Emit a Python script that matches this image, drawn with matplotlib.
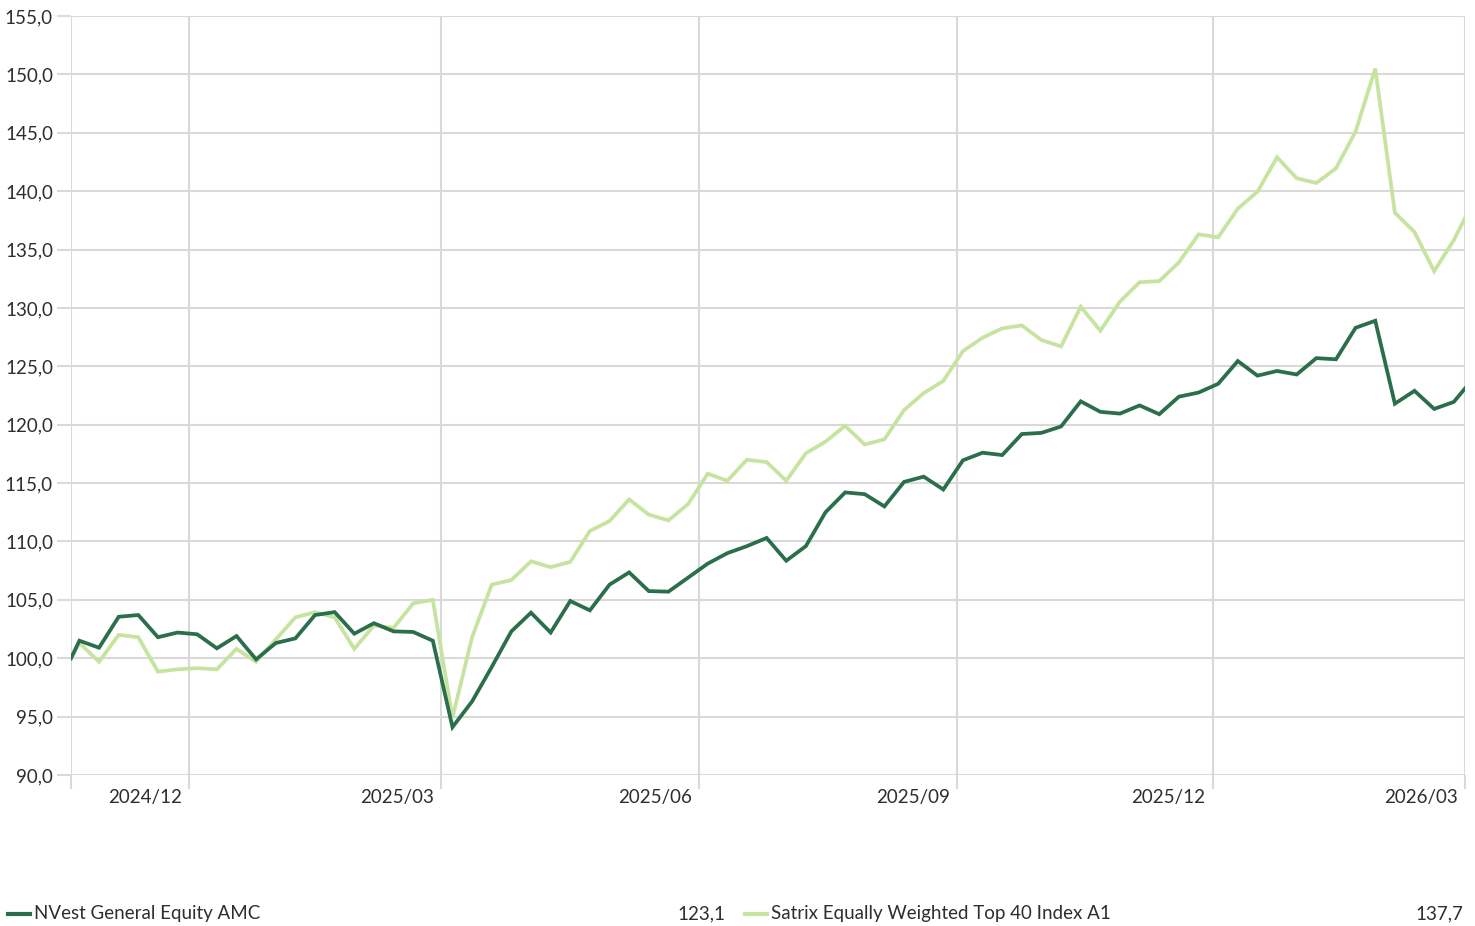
import matplotlib
matplotlib.use("Agg")
import matplotlib.pyplot as plt
from matplotlib.lines import Line2D
from matplotlib.transforms import ScaledTranslation
import pandas as pd

plt.rcParams["font.family"] = ["Lato", "DejaVu Sans"]

# weekly observations, plus the partial-week start and end points
dates = ([pd.Timestamp("2024-10-20")]
         + list(pd.date_range("2024-10-23", periods=71, freq="7D"))
         + [pd.Timestamp("2026-03-01")])

nvest = [100.0, 101.5, 100.9, 103.55, 103.7, 101.8, 102.2, 102.05, 100.85, 101.9,
         99.9, 101.3, 101.7, 103.7, 103.95, 102.1, 103.0, 102.3, 102.25, 101.5,
         94.1, 96.3, 99.25, 102.3, 103.9, 102.2, 104.9, 104.1, 106.3, 107.35,
         105.75, 105.7, 106.9, 108.1, 109.0, 109.6, 110.3, 108.35, 109.6, 112.5,
         114.2, 114.05, 113.0, 115.1, 115.55, 114.45, 116.95, 117.6, 117.4, 119.2,
         119.3, 119.85, 122.0, 121.1, 120.95, 121.65, 120.9, 122.4, 122.75, 123.5,
         125.45, 124.2, 124.6, 124.3, 125.7, 125.6, 128.3, 128.9, 121.8, 122.9,
         121.35, 121.95, 123.1]

satrix = [100.0, 101.3, 99.7, 102.0, 101.8, 98.85, 99.05, 99.15, 99.05, 100.8,
          99.7, 101.6, 103.5, 103.95, 103.5, 100.8, 102.8, 102.6, 104.7, 105.0,
          94.9, 101.8, 106.3, 106.7, 108.3, 107.8, 108.25, 110.9, 111.75, 113.6,
          112.3, 111.8, 113.2, 115.8, 115.2, 117.0, 116.8, 115.2, 117.55, 118.55,
          119.9, 118.3, 118.75, 121.25, 122.7, 123.75, 126.3, 127.45, 128.25, 128.5,
          127.25, 126.7, 130.1, 128.05, 130.55, 132.2, 132.3, 133.9, 136.3, 136.05,
          138.5, 139.95, 142.9, 141.1, 140.7, 141.95, 145.1, 150.5, 138.15, 136.5,
          133.15, 135.8, 137.7]

names = ["NVest General Equity AMC", "Satrix Equally Weighted Top 40 Index A1"]
last_values = ["123,1", "137,7"]
colors = ["#2b6e4b", "#c6e4a0"]

quarter_ticks = ["2024-12-01", "2025-03-01", "2025-06-01", "2025-09-01", "2025-12-01", "2026-03-01"]
quarter_labels = ["2024/12", "2025/03", "2025/06", "2025/09", "2025/12", "2026/03"]

grid_col = "#d9d9d9"
text_col = "#2e2e2e"
fs = 13.5

fig = plt.figure(figsize=(14.75, 9.26), dpi=100)
ax = fig.add_axes([71 / 1475, 1 - 775 / 926, (1465 - 71) / 1475, (775 - 16) / 926])

ax.plot(dates, satrix, color=colors[1], lw=2.7, solid_joinstyle="miter", zorder=3)
ax.plot(dates, nvest, color=colors[0], lw=2.7, solid_joinstyle="miter", zorder=4)

ax.set_ylim(90, 155)
ax.set_yticks(range(90, 156, 5))
ax.set_yticklabels([f"{v},0" for v in range(90, 156, 5)])
ax.set_xlim(dates[0], dates[-1])

xt = [dates[0]] + [pd.Timestamp(d) for d in quarter_ticks]
ax.set_xticks(xt)
ax.set_xticklabels([""] + quarter_labels)

ax.grid(True, color=grid_col, lw=1.5)
ax.set_axisbelow(True)
for s in ax.spines.values():
    s.set_visible(False)

ax.tick_params(axis="both", length=10, width=1.5, color=grid_col, labelcolor=text_col, labelsize=fs)
ax.tick_params(axis="y", pad=3)
ax.tick_params(axis="x", pad=0)

shift = ScaledTranslation(-7 / 100, 0, fig.dpi_scale_trans)
for lab in ax.get_xticklabels():
    lab.set_ha("right")
    lab.set_transform(lab.get_transform() + shift)

# legend row along the bottom
ly = 1 - 914 / 926
legend_pos = [(8, 34, 725), (745, 771, 1463)]
for (hx, tx, vx), name, val, col in zip(legend_pos, names, last_values, colors):
    fig.add_artist(Line2D([hx / 1475, (hx + 22) / 1475], [ly, ly], color=col, lw=3,
                          transform=fig.transFigure))
    fig.text(tx / 1475, ly, name, ha="left", va="center", fontsize=fs, color=text_col)
    fig.text(vx / 1475, ly, val, ha="right", va="center", fontsize=fs, color=text_col)

fig.savefig("out.png", dpi=100)
